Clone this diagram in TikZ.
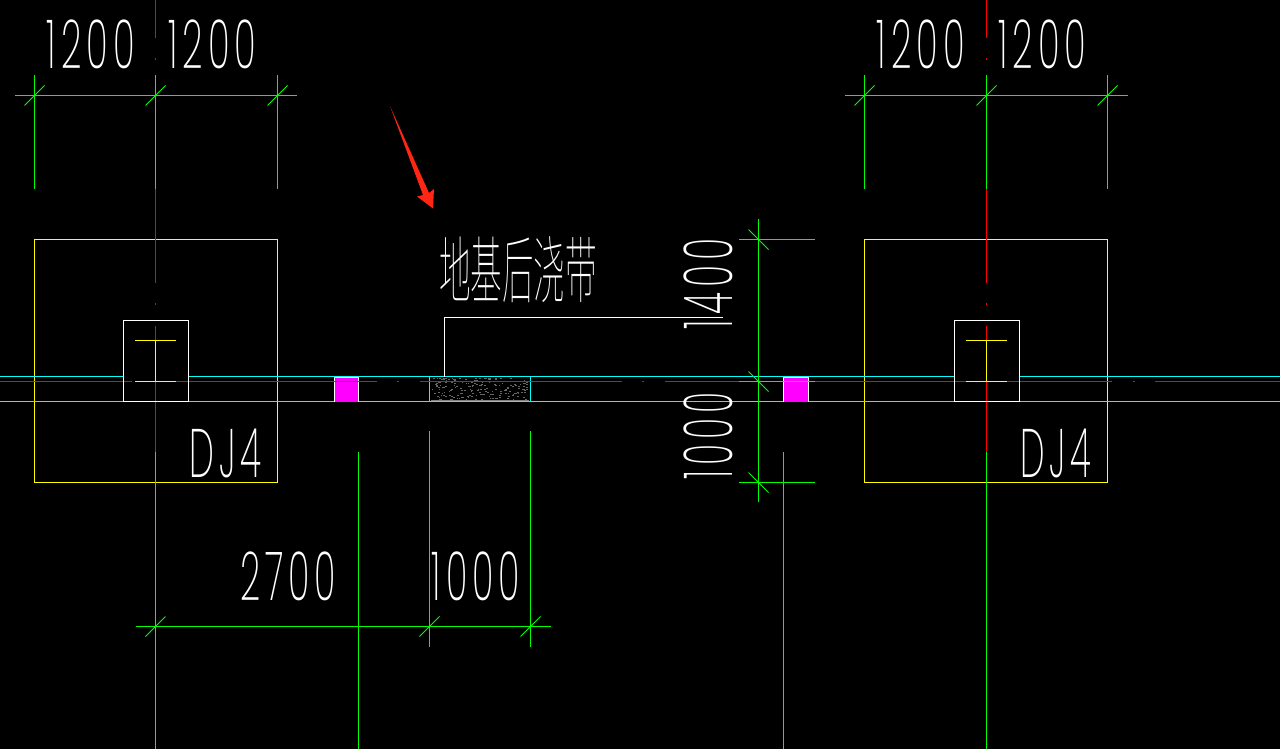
\documentclass[tikz,border=0pt]{standalone}
\usepackage{fontspec}
\usepackage{graphicx}
\newfontfamily\cadfont[LetterSpace=14]{Poppins ExtraLight}
\newfontfamily\cjkfont{Noto Sans CJK SC Thin}
\usetikzlibrary{positioning}
\newcommand{\cadtext}[3]{\resizebox*{#1pt}{#2pt}{#3}}
\definecolor{cadgreen}{RGB}{0,255,0}
\definecolor{cadcyan}{RGB}{0,255,255}
\definecolor{cadyellow}{RGB}{255,255,0}
\definecolor{cadred}{RGB}{255,0,0}
\definecolor{cadmagenta}{RGB}{255,0,255}
\definecolor{arrowred}{RGB}{255,38,20}
\begin{document}
\begin{tikzpicture}[x=1pt,y=-1pt,line width=1pt]
    \tikzstyle{every node}=[inner sep=0,outer sep=0]
    \tikzstyle{note}=[text=white,font=\cadfont]
    \tikzstyle{footing}=[draw=cadyellow,minimum width=243,minimum height=243]
    \tikzstyle{column}=[draw=white,minimum width=65,minimum height=81]
    \tikzstyle{pier}=[fill=cadmagenta,minimum width=24.5,minimum height=24]
    \tikzstyle{dimline}=[draw=cadgreen]
    \tikzstyle{axisline}=[draw=cadred]
    \tikzstyle{wallline}=[draw=cadcyan]
    \useasboundingbox (0,0) rectangle (1280,749);
    \fill[black] (0,0) rectangle (1280,749);
    % footings
    \node[footing] (dj1) at (156,361) {};
    \node[footing] (dj2) at (986,361) {};
    % post-cast strip
    \node[minimum width=101,minimum height=25] (strip) at (480,389) {};
    \pgfmathsetseed{42}
    \foreach \i in {1,...,190} {
        \pgfmathsetmacro{\sx}{431+rnd*96}
        \pgfmathsetmacro{\sy}{378+rnd*22}
        \pgfmathsetmacro{\sl}{1+rnd*1.5}
        \draw[gray!120] (\sx,\sy) -- ++(\sl,0);
    }
    \draw[gray] (431,400.5) -- (529,400.5);
    % walls
    \draw[wallline] (0,376.5) -- (123.5,376.5) (188.5,376.5) -- (954.5,376.5) (1018.5,376.5) -- (1280,376.5);
    \draw[wallline] (0,401.5) -- (1280,401.5);
    \draw[wallline] (strip.north west) -- (strip.south west) (strip.north east) -- (strip.south east);
    % axis lines
    \foreach \x in {155.5,986.5} {
        \draw[axisline] (\x,0) -- (\x,38) (\x,58) -- (\x,60) (\x,189) -- (\x,283) (\x,303) -- (\x,305) (\x,326) -- (\x,452);
    }
    \draw[axisline] (0,381.5) -- (132,381.5) (176,381.5) -- (377,381.5) (397,381.5) -- (399,381.5)
        (420,381.5) -- (622,381.5) (642,381.5) -- (644,381.5) (665,381.5) -- (739,381.5)
        (815,381.5) -- (1112,381.5) (1133,381.5) -- (1135,381.5) (1155,381.5) -- (1280,381.5);
    % piers
    \node[pier] (pier1) at (346.5,389.5) {};
    \node[pier] (pier2) at (796,389.5) {};
    \draw[white] (pier1.south west) -- (pier1.north west) -- (pier1.north east) -- (pier1.south east);
    \draw[white] (pier2.south west) -- (pier2.north west) -- (pier2.north east) -- (pier2.south east);
    \draw[axisline] (pier1.west) ++(0,-8) -- ++(24.5,0);
    % columns
    \node[column] (col1) at (156,361) {};
    \node[column] (col2) at (986.5,361) {};
    \foreach \x in {155.5,986.5} {
        \draw[cadyellow] (\x-20.5,340.5) -- (\x+20.5,340.5) (\x,340.5) -- (\x,381.5) (\x-20.5,381.5) -- (\x+20.5,381.5);
    }
    % dimension lines
    \draw[dimline] (15,95.5) -- (297,95.5) (845,95.5) -- (1128,95.5) (136,626.5) -- (551,626.5);
    \foreach \x in {34.5,155.5,277.5,864.5,986.5,1107.5} {
        \draw[dimline] (\x,75) -- (\x,189);
        \draw[dimline,line width=.8pt] (\x-10,105.5) -- (\x+10,85.5);
    }
    \foreach \x in {155.5,358.5,783.5,986.5} {
        \draw[dimline] (\x,452) -- (\x,749);
    }
    \foreach \x in {429.5,530.5} {
        \draw[dimline] (\x,431) -- (\x,646.5);
    }
    \foreach \x in {155.5,429.5,530.5} {
        \draw[dimline,line width=.8pt] (\x-10,636.5) -- (\x+10,616.5);
    }
    \draw[dimline] (758.5,219) -- (758.5,501.5);
    \foreach \y in {239.5,381.5,482.5} {
        \draw[dimline] (739,\y) -- (815,\y);
        \draw[dimline,line width=.8pt] (748.5,\y-10) -- (768.5,\y+10);
    }
    % leader and arrow
    \draw[white] (444.5,376.5) -- (444.5,317.5) -- (723,317.5);
    \fill[arrowred] (390,106) -- (429,193) -- (434,189) -- (433,208.5) -- (417,196.5) -- (423,195) -- cycle;
    % labels
    \node[note] (dimA) at (91,44.5) {\cadtext{88}{49}{1200}};
    \node[note] (dimB) at (212.5,44.5) {\cadtext{88}{49}{1200}};
    \node[note] (dimC) at (921,44.5) {\cadtext{88}{49}{1200}};
    \node[note] (dimD) at (1042.5,44.5) {\cadtext{88}{49}{1200}};
    \node[note] (dimE) at (288,576) {\cadtext{96}{49}{2700}};
    \node[note] (dimF) at (476,576) {\cadtext{88}{49}{1000}};
    \node[note,rotate=90] (dimG) at (708,284) {\cadtext{91}{49}{1400}};
    \node[note,rotate=90] (dimH) at (708,436) {\cadtext{87}{49}{1000}};
    \node[note] (nameA) at (225.5,453.5) {\cadtext{72}{49}{DJ4}};
    \node[note] (nameB) at (1056,453.5) {\cadtext{71}{49}{DJ4}};
    \node[note,font=\cjkfont] (title) at (518,270) {\cadtext{158}{66}{地基后浇带}};
\end{tikzpicture}
\end{document}
